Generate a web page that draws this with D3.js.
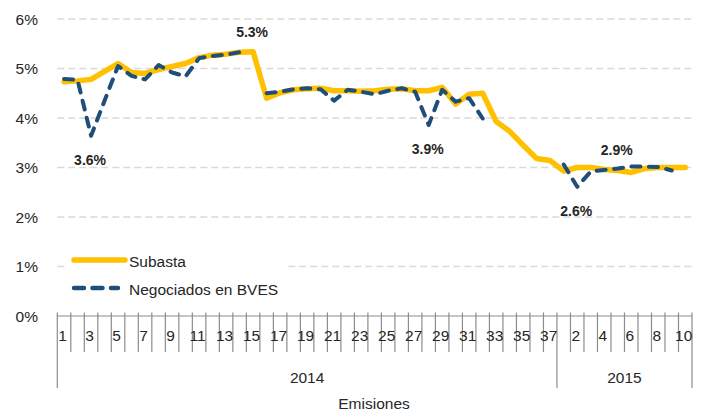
<!DOCTYPE html>
<html>
<head>
<meta charset="utf-8">
<script src="https://cdn.jsdelivr.net/npm/d3@7/dist/d3.min.js"></script>
<style>
  html, body { margin: 0; padding: 0; background: #fff; }
  svg { display: block; font-family: "Liberation Sans", Arial, sans-serif; }
</style>
</head>
<body>
<div id="chart"></div>
<script>
(function () {
  'use strict';

  /* ---- Data ---- */
  const YEARS = ['2014', '2015'];
  const EMISIONES_2014 = ['1','2','3','4','5','6','7','8','9','10','11','12','13','14','15','16','17','18','19','20',
    '21','22','23','24','25','26','27','28','29','30','31','32','33','34','35','36','37'];
  const EMISIONES_2015 = ['1','2','3','4','5','6','7','8','9','10'];

  const SUBASTA = [
    4.73, 4.75, 4.78, 4.94, 5.10, 4.92, 4.90, 4.98, 5.04, 5.10,
    5.22, 5.27, 5.29, 5.33, 5.34, 4.40, 4.51, 4.57, 4.59, 4.60,
    4.55, 4.55, 4.54, 4.55, 4.58, 4.59, 4.55, 4.55, 4.62, 4.28,
    4.48, 4.50, 3.93, 3.73, 3.45, 3.18, 3.14, 2.93, 3.00, 3.00,
    2.96, 2.94, 2.90, 2.98, 3.00, 3.00, 3.00
  ];
  const NEGOCIADOS = [
    4.79, 4.77, 3.64, 4.35, 5.05, 4.85, 4.78, 5.07, 4.92, 4.84,
    5.21, 5.25, 5.28, 5.33, null, 4.50, 4.53, 4.58, 4.60, 4.58,
    4.35, 4.57, 4.53, 4.48, 4.55, 4.60, 4.53, 3.86, 4.57, 4.33,
    4.40, 3.99, null, null, null, null, null, 3.06, 2.61, 2.92,
    2.95, 2.98, 3.02, 3.02, 3.01, 2.94, null
  ];
  const Y_TICKS = [0, 1, 2, 3, 4, 5, 6];

  // data labels: which series, which emission
  const LABEL_SERIES = ['neg', 'sub', 'neg', 'neg', 'sub'];
  const LABEL_INDEX  = [2, 14, 27, 38, 41];

  /* ---- Layout ---- */
  const W = 701, H = 413;
  const M = { left: 57.3, right: 692, top: 19, bottom: 316 };
  const BLUE = '#1f4e79', GOLD = '#ffc000', AXIS = '#8c8c8c', GRID = '#d9d9d9', TXT = '#262626';
  const FS = 15.5;

  const cats = EMISIONES_2014.map((c, i) => ({ year: YEARS[0], label: c, idx: i }))
    .concat(EMISIONES_2015.map((c, i) => ({ year: YEARS[1], label: c, idx: EMISIONES_2014.length + i })));

  const x = d3.scaleBand().domain(cats.map(c => c.idx)).range([M.left, M.right]).padding(0);
  const cx = i => x(i) + x.bandwidth() / 2;
  const y = d3.scaleLinear().domain([0, 6]).range([M.bottom, M.top]);

  const svg = d3.select('#chart').append('svg')
    .attr('width', W).attr('height', H);

  /* ---- Gridlines ---- */
  svg.append('g').selectAll('line')
    .data(Y_TICKS.filter(t => t > 0))
    .join('line')
      .attr('x1', M.left).attr('x2', M.right)
      .attr('y1', d => y(d)).attr('y2', d => y(d))
      .attr('stroke', GRID).attr('stroke-width', 1.3)
      .attr('stroke-dasharray', '7,4');

  /* ---- Y axis labels ---- */
  svg.append('g').selectAll('text')
    .data(Y_TICKS)
    .join('text')
      .attr('x', 38).attr('y', d => y(d))
      .attr('text-anchor', 'end').attr('dominant-baseline', 'central')
      .attr('font-size', FS).attr('fill', TXT)
      .text(d => d + '%');

  /* ---- X axis ---- */
  const xg = svg.append('g');
  xg.append('line')
    .attr('x1', M.left).attr('x2', M.right)
    .attr('y1', M.bottom).attr('y2', M.bottom)
    .attr('stroke', AXIS).attr('stroke-width', 1.2);

  const bounds = d3.range(cats.length + 1).map(i => i < cats.length ? x(i) : M.right);
  const groupBounds = [0, EMISIONES_2014.length, cats.length];
  xg.selectAll('line.tick')
    .data(bounds)
    .join('line')
      .attr('class', 'tick')
      .attr('x1', d => d).attr('x2', d => d)
      .attr('y1', M.bottom - 3.5)
      .attr('y2', (d, i) => groupBounds.includes(i) ? 388 : 352)
      .attr('stroke', AXIS).attr('stroke-width', 1.2);

  xg.selectAll('text.cat')
    .data(cats.filter(c => c.idx % 2 === 0))
    .join('text')
      .attr('class', 'cat')
      .attr('x', d => cx(d.idx) - 1.5).attr('y', 341)
      .attr('text-anchor', 'middle')
      .attr('font-size', FS).attr('fill', TXT)
      .text(d => d.label);

  xg.selectAll('text.year')
    .data(YEARS)
    .join('text')
      .attr('class', 'year')
      .attr('x', (d, i) => (bounds[groupBounds[i]] + bounds[groupBounds[i + 1]]) / 2)
      .attr('y', 383)
      .attr('text-anchor', 'middle')
      .attr('font-size', FS).attr('fill', TXT)
      .text(d => d);

  svg.append('text')
    .attr('x', 374).attr('y', 409)
    .attr('text-anchor', 'middle')
    .attr('font-size', FS).attr('fill', TXT)
    .text('Emisiones');

  /* ---- Series ---- */
  const line = d3.line()
    .defined(d => d != null)
    .x((d, i) => cx(i))
    .y(d => y(d));

  svg.append('path')
    .attr('d', line(SUBASTA))
    .attr('fill', 'none').attr('stroke', GOLD)
    .attr('stroke-width', 5.5).attr('stroke-linejoin', 'round').attr('stroke-linecap', 'round');

  svg.append('path')
    .attr('d', line(NEGOCIADOS))
    .attr('fill', 'none').attr('stroke', BLUE)
    .attr('stroke-width', 4).attr('stroke-linejoin', 'round').attr('stroke-linecap', 'round')
    .attr('stroke-dasharray', '9,8.5');

  /* ---- Data labels ---- */
  const fmt = d3.format('.1f');
  svg.append('g').selectAll('text')
    .data(LABEL_INDEX.map((idx, k) => ({ idx, s: LABEL_SERIES[k] })))
    .join('text')
      .attr('x', d => cx(d.idx) - 1)
      .attr('y', d => {
        const v = d.s === 'sub' ? SUBASTA[d.idx] : NEGOCIADOS[d.idx];
        return d.s === 'sub' ? y(v) - 20 : y(v) + 24;
      })
      .attr('text-anchor', 'middle').attr('dominant-baseline', 'central')
      .attr('font-size', 14).attr('font-weight', 'bold').attr('fill', TXT)
      .text(d => fmt(d.s === 'sub' ? SUBASTA[d.idx] : NEGOCIADOS[d.idx]) + '%');

  /* ---- Legend ---- */
  const lg = svg.append('g');
  lg.append('rect')
    .attr('x', 64).attr('y', 238).attr('width', 224).attr('height', 66)
    .attr('fill', '#fff');
  lg.append('line')
    .attr('x1', 74).attr('x2', 125).attr('y1', 260).attr('y2', 260)
    .attr('stroke', GOLD).attr('stroke-width', 5.5).attr('stroke-linecap', 'round');
  lg.append('line')
    .attr('x1', 74).attr('x2', 118).attr('y1', 288).attr('y2', 288)
    .attr('stroke', BLUE).attr('stroke-width', 4.5).attr('stroke-linecap', 'round')
    .attr('stroke-dasharray', '10,8.5');
  lg.append('text')
    .attr('x', 129).attr('y', 261).attr('dominant-baseline', 'central')
    .attr('font-size', FS).attr('fill', TXT).text('Subasta');
  lg.append('text')
    .attr('x', 129).attr('y', 289).attr('dominant-baseline', 'central')
    .attr('font-size', FS).attr('fill', TXT).text('Negociados en BVES');
})();
</script>
</body>
</html>
